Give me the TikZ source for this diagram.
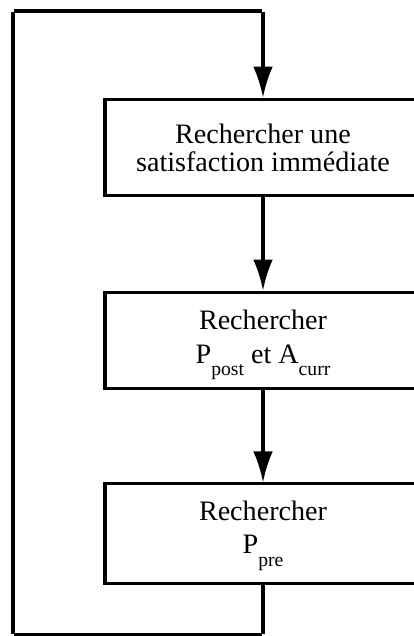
\documentclass[tikz,border=0pt]{standalone}
\usepackage{fontspec}
\setmainfont{Liberation Serif}
\usepackage{tikz}
\usetikzlibrary{arrows.meta}
\newcommand{\bas}[1]{\raisebox{-4.5pt}{\fontsize{7}{7}\selectfont #1}}

\tikzset{
  etape/.style={draw, line width=1.1pt, fill=white, align=center,
    minimum width=3.95cm, minimum height=1.21cm, inner sep=0,
    font=\fontsize{10}{10}\selectfont},
  fleche/.style={->, >={Latex[length=11pt, width=7pt]}, line width=1.1pt}
}

\begin{document}
\begin{tikzpicture}
  \useasboundingbox (0, 0) rectangle (5.175, -7.95);
  \clip (0, 0) rectangle (5.175, -7.95);

  \node[etape, text depth=-2.8pt]
    (sat) at (3.2875, -1.844) {Rechercher une\\satisfaction imm\'ediate};

  \node[etape, text depth=2.8pt]
    (post) at (3.2875, -4.256) {Rechercher\\[2pt]P\bas{post} et A\bas{curr}};

  \node[etape, text depth=4.5pt, minimum height=1.24cm]
    (pre) at (3.2875, -6.669) {Rechercher\\[2pt]P\bas{pre}};

  \node[inner sep=0, minimum size=0] (B1) at (3.2875, -7.9375) {};
  \node[inner sep=0, minimum size=0] (B2) at (0.1625, -7.9375) {};
  \node[inner sep=0, minimum size=0] (H1) at (0.1625, -0.1375) {};
  \node[inner sep=0, minimum size=0] (H2) at (3.2875, -0.1375) {};

  \draw[fleche]
    (sat) edge (post)
    (post) edge (pre);

  \draw[fleche]
    (pre) -- (B1) -- (B2) -- (H1) -- (H2) -- (sat);
\end{tikzpicture}
\end{document}
